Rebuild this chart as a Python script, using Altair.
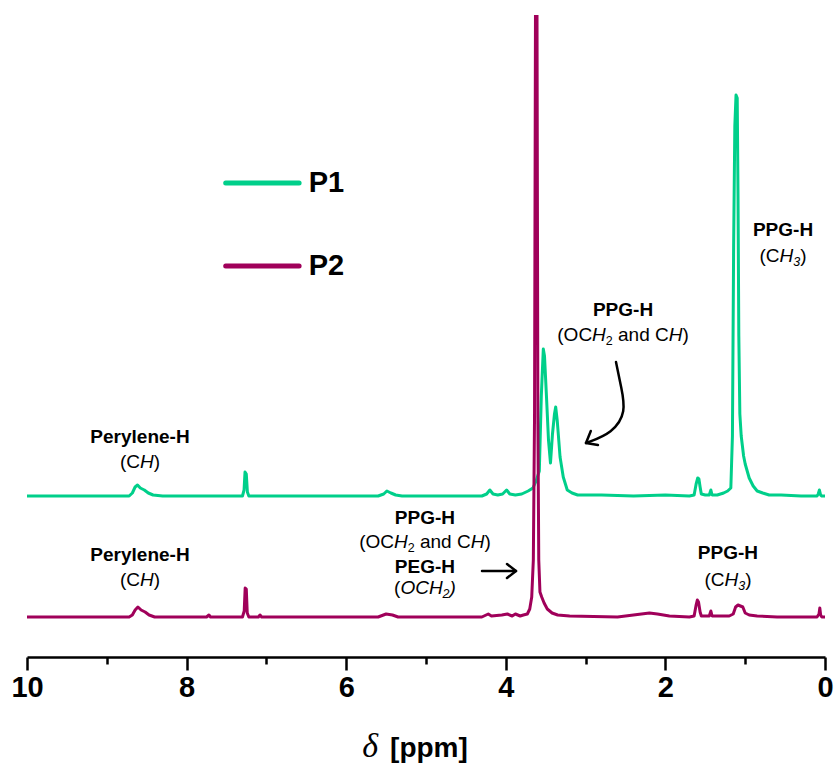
import altair as alt
import pandas as pd

# ---------------- data ----------------
P1 = [(10.0, 0), (9.0, 0), (8.72, 0), (8.68, 3), (8.645, 9), (8.615, 11), (8.58, 8), (8.53, 6),
      (8.48, 3), (8.42, 1), (8.3, 0), (7.8, 0), (7.3, 0), (7.28, 6), (7.268, 24), (7.252, 22),
      (7.238, 4), (7.22, 0), (6.6, 0), (5.6, 0), (5.53, 2), (5.49, 5), (5.44, 3), (5.38, 1),
      (5.3, 0), (4.3, 0), (4.24, 2), (4.2, 6), (4.16, 2), (4.1, 1), (4.04, 2), (3.99, 6),
      (3.95, 2), (3.88, 1), (3.8, 2), (3.72, 5), (3.66, 8), (3.62, 15), (3.58, 25), (3.555, 100),
      (3.53, 147), (3.515, 140), (3.49, 99), (3.465, 56), (3.44, 33), (3.415, 62), (3.39, 82),
      (3.375, 89), (3.355, 75), (3.32, 39), (3.28, 19), (3.23, 6), (3.17, 3), (3.1, 1), (2.8, 1),
      (2.4, 0), (2.0, 1), (1.7, 0), (1.64, 1), (1.615, 12), (1.595, 18), (1.58, 17), (1.565, 9),
      (1.55, 2), (1.5, 1), (1.45, 1), (1.43, 6), (1.415, 1), (1.35, 1), (1.27, 3), (1.22, 5),
      (1.18, 8), (1.16, 60), (1.145, 250), (1.13, 370), (1.115, 401), (1.1, 398), (1.09, 300),
      (1.08, 160), (1.067, 82), (1.05, 60), (1.02, 40), (1.0, 32), (0.95, 18), (0.9, 10),
      (0.85, 5), (0.78, 3), (0.7, 1), (0.55, 1), (0.3, 0), (0.1, 0), (0.085, 2), (0.07, 6),
      (0.055, 1), (0.04, 0), (0.0, 0)]

P2 = [(10.0, 0), (9.0, 0), (8.72, 0), (8.68, 2), (8.645, 7), (8.61, 10), (8.57, 7), (8.52, 5),
      (8.47, 2), (8.4, 0), (7.75, 0), (7.72, 2), (7.70, 0), (7.3, 0), (7.278, 6), (7.266, 29),
      (7.252, 28), (7.24, 4), (7.22, 0), (7.1, 0), (7.08, 2), (7.06, 0), (5.6, 0), (5.5, 3),
      (5.42, 2), (5.35, 0), (4.3, 0), (4.22, 3), (4.18, 1), (4.05, 2), (3.98, 3), (3.92, 1),
      (3.88, 3), (3.82, 1), (3.78, 2), (3.73, 3), (3.70, 8), (3.675, 20), (3.655, 57),
      (3.64, 200), (3.627, 640), (3.61, 640), (3.598, 200), (3.587, 57), (3.572, 25),
      (3.55, 20), (3.52, 14), (3.48, 8), (3.42, 4), (3.35, 2), (3.2, 1), (2.6, 0), (2.4, 2),
      (2.2, 4), (2.1, 3), (1.95, 1), (1.7, 0), (1.64, 1), (1.615, 12), (1.6, 17), (1.585, 15),
      (1.565, 5), (1.55, 1), (1.45, 1), (1.43, 6), (1.415, 1), (1.3, 1), (1.2, 1), (1.15, 3),
      (1.12, 10), (1.09, 12), (1.06, 11), (1.03, 10), (1.0, 4), (0.95, 2), (0.85, 1), (0.6, 0),
      (0.1, 0), (0.075, 3), (0.065, 9), (0.055, 2), (0.04, 0), (0.0, 0)]

OFFSETS = {"P1": 161, "P2": 40}
SERIES = ["P1", "P2"]
TICK_VALUES = list(range(0, 11))

# annotation anchors (ppm, intensity units)
BOLD_TEXT = ["Perylene-H", "Perylene-H", "PPG-H", "PPG-H", "PPG-H", "PEG-H", "PPG-H"]
BOLD_PPM = [8.584, 8.584, 2.531, 0.526, 5.013, 5.013, 1.216]
BOLD_Y = [220, 102, 347, 427, 139, 90, 104]

RICH = [
    (8.584, 195, [("(C", "r"), ("H", "i"), (")", "r")]),
    (8.584, 77, [("(C", "r"), ("H", "i"), (")", "r")]),
    (2.531, 322, [("(OC", "r"), ("H", "i"), ("2", "sr"), (" ", "g"), ("and C", "r"), ("H", "i"), (")", "r")]),
    (0.526, 401, [("(C", "r"), ("H", "i"), ("3", "si"), (")", "r")]),
    (5.013, 115, [("(OC", "r"), ("H", "i"), ("2", "sr"), (" ", "g"), ("and C", "r"), ("H", "i"), (")", "r")]),
    (5.013, 69, [("(", "r"), ("OCH", "i"), ("2", "si"), (")", "i")]),
    (1.216, 77, [("(C", "r"), ("H", "i"), ("3", "si"), (")", "r")]),
]

# arrow shafts (curved: basis spline through control points) and heads: (id, order, ppm, y)
CURVE = [("c", 0, 2.619, 295), ("c", 1, 2.555, 270), ("c", 2, 2.49, 245),
         ("c", 3, 2.66, 224), ("c", 4, 2.995, 214)]
STRAIGHT = [
    ("ch", 0, 2.935, 226), ("ch", 1, 2.995, 214), ("ch", 2, 2.845, 212),
    ("s", 0, 4.298, 86), ("s", 1, 3.872, 86),
    ("sh", 0, 3.985, 93), ("sh", 1, 3.872, 86), ("sh", 2, 3.985, 79),
]

LEGEND_X1, LEGEND_X2, LEGEND_TXT = 7.51, 6.59, 6.47
LEGEND_Y = [474, 391]

# ---------------- styles ----------------
WIDTH, HEIGHT = 798, 642
PX_PER_PPM = WIDTH / 10.0
GREEN = "#00CF8A"
MAGENTA = "#A0005A"
FONT = "Liberation Sans"
ASIZE = 19
SUBSIZE = 12.5

XS = alt.Scale(domain=[10, 0], nice=False, zero=False)
YS = alt.Scale(domain=[0, HEIGHT], nice=False, zero=False)
CS = alt.Scale(domain=SERIES, range=[GREEN, MAGENTA])

W = {'(': 333, ')': 333, 'C': 722, 'O': 778, ' ': 278, 'a': 556, 'n': 556, 'd': 556,
     'H': 722, '2': 556, '3': 556}


def seg_w(txt, style):
    size = SUBSIZE if style.startswith("s") else ASIZE
    return sum(W[c] for c in txt) * size / 1000.0


rows = []
for cx, cy, segs in RICH:
    total = sum(seg_w(t, s) for t, s in segs)
    cum = 0.0
    for t, s in segs:
        if s != "g":
            x = cx + (total / 2 - cum) / PX_PER_PPM
            y = cy - 6 if s.startswith("s") else cy
            rows.append({"ppm": x, "y": y, "text": t, "style": s})
        cum += seg_w(t, s)
rich_df = pd.DataFrame(rows)


def spec_df(name, pts):
    return pd.DataFrame({"ppm": [p for p, _ in pts],
                         "value": [OFFSETS[name] + v for _, v in pts],
                         "series": name})


xenc = alt.X("ppm:Q", scale=XS,
             axis=alt.Axis(values=TICK_VALUES,
                           labelExpr="datum.value % 2 === 0 ? format(datum.value, 'd') : ''",
                           tickSize={"condition": {"test": "datum.value % 2 === 0", "value": 13}, "value": 7},
                           tickWidth=2.5, tickColor="black", domainColor="black", domainWidth=2.5,
                           labelFont=FONT, labelFontWeight="bold", labelFontSize=29,
                           labelColor="black", labelPadding=3, labelFlush=False,
                           grid=False, title=None))


def X():
    return alt.X("ppm:Q", scale=XS)


def Y(f="y"):
    return alt.Y(f + ":Q", scale=YS, axis=None)


l1 = alt.Chart(spec_df("P1", P1)).mark_line(strokeWidth=3, clip=True, strokeJoin="round").encode(
    x=xenc, y=Y("value"), color=alt.Color("series:N", scale=CS, legend=None))
l2 = alt.Chart(spec_df("P2", P2)).mark_line(strokeWidth=3, clip=True, strokeJoin="round").encode(
    x=X(), y=Y("value"), color=alt.Color("series:N", scale=CS, legend=None))

bold_df = pd.DataFrame({"ppm": BOLD_PPM, "y": BOLD_Y, "text": BOLD_TEXT})
bold = alt.Chart(bold_df).mark_text(font=FONT, fontWeight="bold", fontSize=ASIZE, align="center",
                                    baseline="middle", color="black").encode(x=X(), y=Y(), text="text:N")


def rich_layer(style, **kw):
    return alt.Chart(rich_df[rich_df["style"] == style]).mark_text(
        font=FONT, align="left", baseline="middle", color="black", **kw).encode(
        x=X(), y=Y(), text="text:N")


r_reg = rich_layer("r", fontSize=ASIZE)
r_it = rich_layer("i", fontSize=ASIZE, fontStyle="italic")
r_sr = rich_layer("sr", fontSize=SUBSIZE)
r_si = rich_layer("si", fontSize=SUBSIZE, fontStyle="italic")

curve = alt.Chart(pd.DataFrame(CURVE, columns=["id", "k", "ppm", "y"])).mark_line(
    color="black", strokeWidth=2.5, strokeCap="round", interpolate="basis").encode(
    x=X(), y=Y(), detail="id:N", order="k:Q")
heads = alt.Chart(pd.DataFrame(STRAIGHT, columns=["id", "k", "ppm", "y"])).mark_line(
    color="black", strokeWidth=2.5, strokeCap="round", strokeJoin="round").encode(
    x=X(), y=Y(), detail="id:N", order="k:Q")

leg_df = pd.DataFrame({"series": SERIES, "x1": LEGEND_X1, "x2": LEGEND_X2, "xt": LEGEND_TXT, "y": LEGEND_Y})
leg_lines = alt.Chart(leg_df).mark_rule(strokeWidth=5, strokeCap="round").encode(
    x=alt.X("x1:Q", scale=XS), x2="x2:Q", y=Y(), color=alt.Color("series:N", scale=CS, legend=None))
leg_text = alt.Chart(leg_df).mark_text(font=FONT, fontWeight="bold", fontSize=29, align="left",
                                       baseline="middle", color="black").encode(
    x=alt.X("xt:Q", scale=XS), y=Y(), text="series:N")

title_df = pd.DataFrame({"ppm": [5.80, 5.45], "y": [-100, -100], "text": ["δ", "[ppm]"]})
t_delta = alt.Chart(title_df.iloc[[0]]).mark_text(font="Liberation Serif", fontStyle="italic",
                                                  fontSize=34, align="left", baseline="alphabetic",
                                                  color="black").encode(x=X(), y=Y(), text="text:N")
t_ppm = alt.Chart(title_df.iloc[[1]]).mark_text(font=FONT, fontWeight="bold", fontSize=28,
                                                align="left", baseline="alphabetic",
                                                color="black").encode(x=X(), y=Y(), text="text:N")

chart = alt.layer(l1, l2, curve, heads, bold, r_reg, r_it, r_sr, r_si, leg_lines, leg_text,
                  t_delta, t_ppm).properties(
    width=WIDTH, height=HEIGHT,
    padding={"left": 27, "top": 15, "right": 11, "bottom": 115},
    autosize=alt.AutoSizeParams(type="none"),
    background="white",
).configure_view(stroke=None)

chart.save("out.html", embed_options={"renderer": "svg", "actions": False})
